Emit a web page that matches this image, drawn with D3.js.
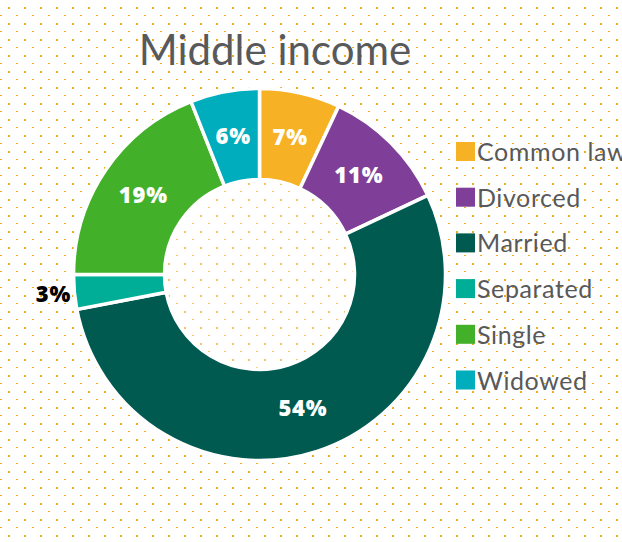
<!DOCTYPE html>
<html>
<head>
<meta charset="utf-8">
<script src="https://cdn.jsdelivr.net/npm/d3@7"></script>
<style>
  body { margin: 0; background: #fff; }
  #donut_chart { width: 622px; height: 542px; overflow: hidden; }
</style>
</head>
<body>
<div id="donut_chart"></div>
<script>
// data
var categories = ["Common law", "Divorced", "Married", "Separated", "Single", "Widowed"];
var shares = [7, 11, 54, 3, 19, 6];
var sliceColors = ["#f6b124", "#7f3f98", "#005a50", "#00ae97", "#43b02a", "#00adbc"];
var chartTitle = "Middle income";

var width = 622;
var height = 542;

var svg = d3.select("#donut_chart")
    .append("svg")
    .attr("width", width)
    .attr("height", height)
    .attr("shape-rendering", "auto");

// dotted background
var defs = svg.append("defs");
var dots = defs.append("pattern")
    .attr("id", "dots")
    .attr("patternUnits", "userSpaceOnUse")
    .attr("width", 16)
    .attr("height", 16);
dots.append("rect").attr("x", 8).attr("y", 7).attr("width", 2).attr("height", 2)
    .attr("fill", "#f4aa1a").attr("shape-rendering", "crispEdges");
dots.append("rect").attr("x", 0).attr("y", 15).attr("width", 2).attr("height", 2)
    .attr("fill", "#f4aa1a").attr("shape-rendering", "crispEdges");

svg.append("rect")
    .attr("width", width)
    .attr("height", height)
    .attr("fill", "url(#dots)");

// title
svg.append("text")
    .attr("x", 275)
    .attr("y", 65)
    .attr("text-anchor", "middle")
    .style("font-family", "Lato, 'Open Sans', sans-serif")
    .style("font-size", "42px")
    .attr("fill", "#58595b")
    .text(chartTitle);

var cx = 259.5, cy = 274.5;
var innerR = 95, outerR = 186;

var color = d3.scaleOrdinal()
    .domain(categories)
    .range(sliceColors);

var pie = d3.pie()
    .value(d => d.value)
    .sort(null);

var arc = d3.arc()
    .innerRadius(innerR)
    .outerRadius(outerR);

var outerArc = d3.arc()
    .innerRadius(207)
    .outerRadius(207);

var data = categories.map((c, i) => ({ name: c, value: shares[i] }));
var arcs = pie(data);

var donut = svg.append("g")
    .attr("transform", "translate(" + cx + "," + cy + ")");

// faded hole
donut.append("circle")
    .attr("r", innerR)
    .attr("fill", "#fff")
    .attr("opacity", 0.3);

donut.selectAll("path")
    .data(arcs)
    .join("path")
    .attr("d", arc)
    .attr("fill", d => color(d.data.name))
    .attr("stroke", "#fff")
    .attr("stroke-width", 3.5);

// percent labels, small slices go outside
donut.selectAll(".pct")
    .data(arcs)
    .join("text")
    .attr("class", "pct")
    .attr("transform", d => {
        var p = d.data.value < 5 ? outerArc.centroid(d) : arc.centroid(d);
        return "translate(" + p[0] + "," + p[1] + ")";
    })
    .attr("text-anchor", "middle")
    .attr("dy", "0.36em")
    .style("font-family", "'Open Sans', Lato, sans-serif")
    .style("font-weight", 800)
    .style("font-size", "22px")
    .style("letter-spacing", "0.8px")
    .attr("fill", d => d.data.value < 5 ? "#000" : "#fff")
    .text(d => d.data.value + "%");

// legend
var size = 19;
var rowGap = 45.7;
var legend = svg.append("g")
    .attr("transform", "translate(456,142)");

legend.selectAll("rect")
    .data(categories)
    .join("rect")
    .attr("x", 0)
    .attr("y", (d, i) => i * rowGap)
    .attr("width", size)
    .attr("height", size)
    .attr("fill", d => color(d));

legend.selectAll("text")
    .data(categories)
    .join("text")
    .attr("x", size + 2)
    .attr("y", (d, i) => i * rowGap + size)
    .style("font-family", "Lato, 'Open Sans', sans-serif")
    .style("font-size", "25px")
    .style("letter-spacing", "0.6px")
    .attr("fill", "#58595b")
    .text(d => d);
</script>
</body>
</html>
